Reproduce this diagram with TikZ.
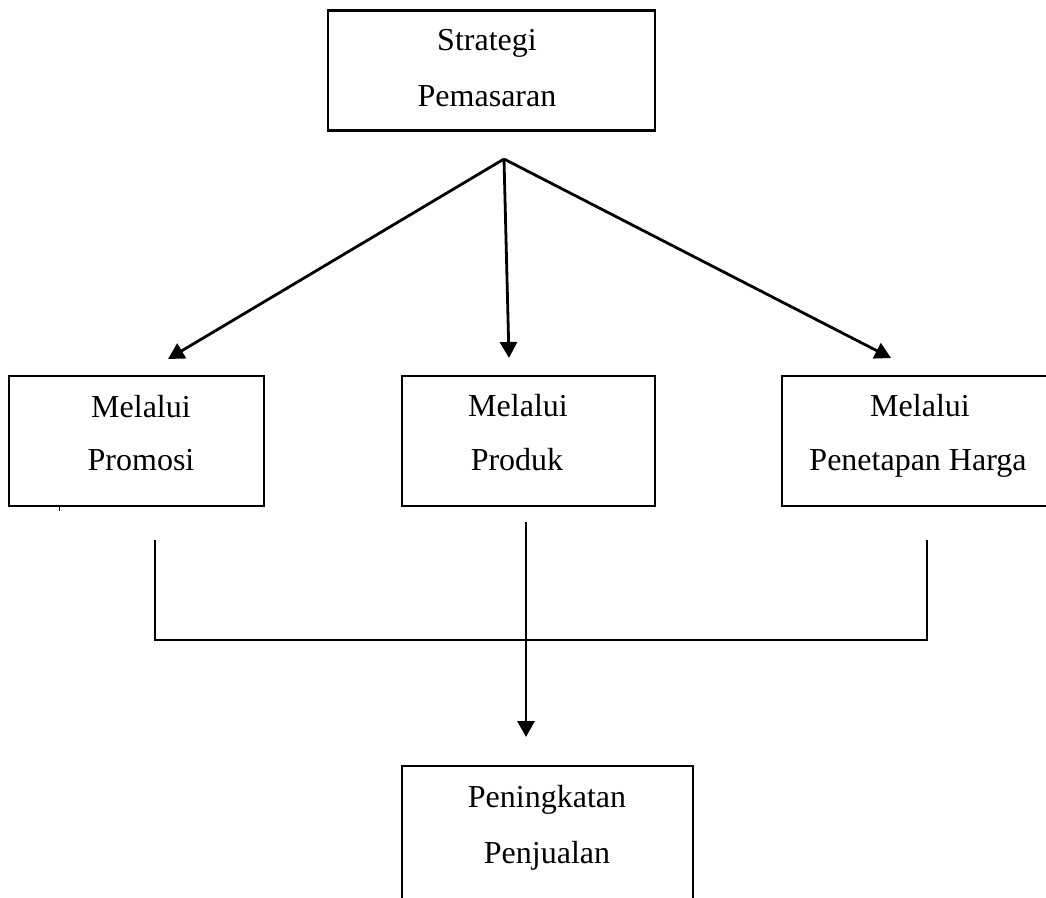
\documentclass[tikz,border=0pt]{standalone}
\usepackage{fontspec}
\setmainfont{Liberation Serif}
\usetikzlibrary{arrows.meta}
\begin{document}
\begin{tikzpicture}[x=1pt,y=-1pt,
  box/.style={draw, line width=2.5pt, inner sep=0pt, outer sep=0pt},
  txt/.style={anchor=base, inner sep=0pt, font=\fontsize{32}{38}\selectfont},
  conn/.style={line width=2.8pt},
  arr/.style={conn, -{Triangle[length=16pt,width=17pt]}}]
\clip (0,0) rectangle (1046,897);
\fill[white] (0,0) rectangle (1046,897);
% boxes
\node[box, minimum width=327pt, minimum height=120pt] (top) at (491.5,70.5) {};
\node[box, minimum width=255pt, minimum height=130pt] (promosi) at (136.5,441) {};
\node[box, minimum width=253pt, minimum height=130pt] (produk) at (528.5,441) {};
\node[box, minimum width=276pt, minimum height=130pt] (harga) at (920,441) {};
\node[box, minimum width=291pt, minimum height=160pt] (jual) at (547.5,846) {};
% texts
\node[txt] (t1a) at (487,50) {Strategi};
\node[txt] (t1b) at (487,106) {Pemasaran};
\node[txt] (t2a) at (141,417) {Melalui};
\node[txt] (t2b) at (141,470) {Promosi};
\node[txt] (t3a) at (518,416) {Melalui};
\node[txt] (t3b) at (517,470) {Produk};
\node[txt] (t4a) at (920,416) {Melalui};
\node[txt] (t4b) at (918,470) {Penetapan Harga};
\node[txt] (t5a) at (547,807) {Peningkatan};
\node[txt] (t5b) at (547,863) {Penjualan};
% connectors
\coordinate (apex) at (504,159);
\coordinate (tipL) at (168,359);
\coordinate (tipM) at (509,358);
\coordinate (tipR) at (891,358);
\draw[arr] (apex) -- (tipL);
\draw[arr] (apex) -- (tipM);
\draw[arr] (apex) -- (tipR);
\coordinate (bl) at (155,540);
\coordinate (blc) at (155,640);
\coordinate (brc) at (927,640);
\coordinate (br) at (927,540);
\draw[conn] (bl) -- (blc) -- (brc) -- (br);
\coordinate (mtop) at (526,522);
\coordinate (mtip) at (526,737);
\draw[arr] (mtop) -- (mtip);
\draw[line width=1pt] (59,506) -- (59,511);
\end{tikzpicture}
\end{document}
